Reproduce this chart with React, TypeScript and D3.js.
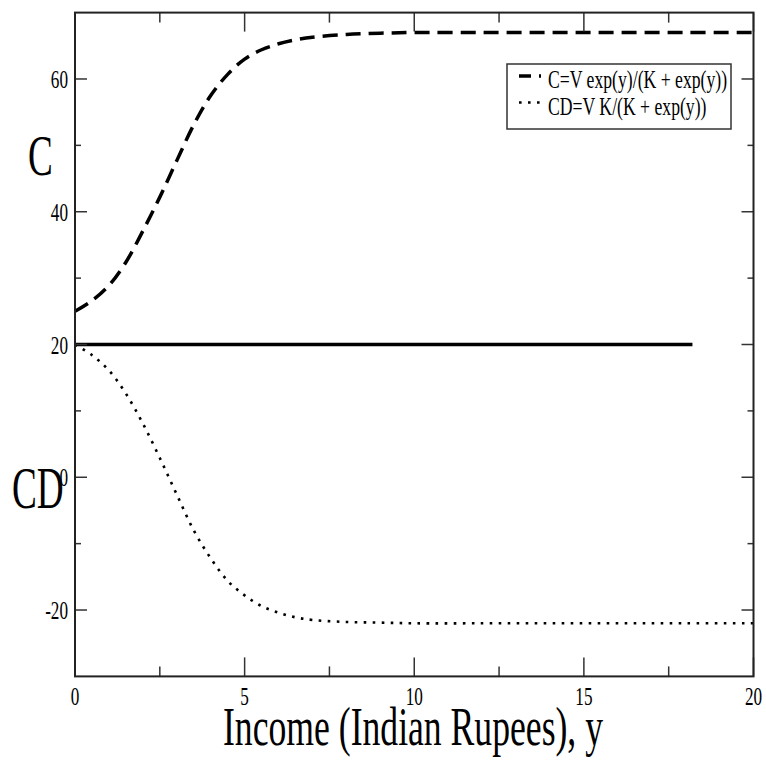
import React from "react";
import * as d3 from "d3";

// ---- data ----
const xValues = [0, 0.5, 1, 1.5, 2, 2.5, 3, 3.5, 4, 4.5, 5, 5.5, 6, 6.5, 7, 8, 9, 10, 12, 14, 16, 18, 20];
const cValues = [25.0, 26.6, 28.9, 32.4, 37.1, 42.2, 47.7, 53.1, 57.5, 60.7, 63.0, 64.4, 65.3, 65.9, 66.3, 66.7, 66.9, 67.0, 67.0, 67.0, 67.0, 67.0, 67.0];
const cdValues = [20.0, 18.4, 16.1, 12.6, 8.1, 2.9, -2.6, -8.0, -12.2, -15.6, -17.8, -19.4, -20.4, -21.1, -21.5, -21.8, -21.9, -22.0, -22.0, -22.0, -22.0, -22.0, -22.0];
const solidX = [0, 18.2];
const solidY = [20, 20];

const xMajorTicks = [0, 5, 10, 15, 20];
const xMinorTicks = [2.5, 7.5, 12.5, 17.5];
const yMajorTicks = [-20, 0, 20, 40, 60];
const yMinorTicks = [-10, 10, 30, 50];

const legendLabels = ["C=V exp(y)/(K + exp(y))", "CD=V K/(K + exp(y))"];
const xAxisLabel = "Income (Indian Rupees), y";

const W = 766;
const H = 762;
const FONT = "'Liberation Serif', 'Times New Roman', serif";

const x = d3.scaleLinear().domain([0, 20]).range([75, 753.5]);
const y = d3.scaleLinear().domain([-30, 70]).range([676.4, 12.6]);

function SText({ x: tx, y: ty, sx, size, anchor, children }: any) {
  return (
    <text
      transform={`translate(${tx},${ty}) scale(${sx},1)`}
      textAnchor={anchor || "start"}
      fontFamily={FONT}
      fontSize={size}
      fill="#000"
    >
      {children}
    </text>
  );
}

export default function App() {
  const line = d3
    .line<[number, number]>()
    .x((d) => x(d[0]))
    .y((d) => y(d[1]))
    .curve(d3.curveCatmullRom.alpha(0.5));

  const cPts: [number, number][] = xValues.map((v, i) => [v, cValues[i]]);
  const cdPts: [number, number][] = xValues.map((v, i) => [v, cdValues[i]]);
  const sPts: [number, number][] = solidX.map((v, i) => [v, solidY[i]]);

  const [x0, x1] = x.range();
  const [y0, y1] = y.range(); // y0 bottom, y1 top
  const axisColor = "#333";

  return (
    <svg
      width={W}
      height={H}
      style={{ position: "absolute", left: 0, top: 0, background: "#fff" }}
    >
      <defs>
        <clipPath id="plot">
          <rect x={x0} y={y1} width={x1 - x0} height={y0 - y1} />
        </clipPath>
      </defs>
      <rect x={0} y={0} width={W} height={H} fill="#fff" />

      {/* curves */}
      <g clipPath="url(#plot)">
        <path d={line(sPts) || ""} fill="none" stroke="#000" strokeWidth={3.5} />
        <path d={line(cPts) || ""} fill="none" stroke="#000" strokeWidth={3.5} strokeDasharray="15,8" />
        <path d={line(cdPts) || ""} fill="none" stroke="#000" strokeWidth={2.6} strokeDasharray="2.6,6.4" />
      </g>

      {/* ticks */}
      <g stroke={axisColor} strokeWidth={1.5}>
        {xMajorTicks.map((t) => (
          <g key={"xM" + t}>
            <line x1={x(t)} x2={x(t)} y1={y0} y2={y0 - 19} />
            <line x1={x(t)} x2={x(t)} y1={y1} y2={y1 + 19} />
          </g>
        ))}
        {xMinorTicks.map((t) => (
          <g key={"xm" + t}>
            <line x1={x(t)} x2={x(t)} y1={y0} y2={y0 - 10} />
            <line x1={x(t)} x2={x(t)} y1={y1} y2={y1 + 10} />
          </g>
        ))}
        {yMajorTicks.map((t) => (
          <g key={"yM" + t}>
            <line x1={x0} x2={x0 + 12} y1={y(t)} y2={y(t)} />
            <line x1={x1} x2={x1 - 12} y1={y(t)} y2={y(t)} />
          </g>
        ))}
        {yMinorTicks.map((t) => (
          <g key={"ym" + t}>
            <line x1={x0} x2={x0 + 6} y1={y(t)} y2={y(t)} />
            <line x1={x1} x2={x1 - 6} y1={y(t)} y2={y(t)} />
          </g>
        ))}
      </g>

      {/* frame */}
      <rect x={x0} y={y1} width={x1 - x0} height={y0 - y1} fill="none" stroke="#222" strokeWidth={2} />

      {/* tick labels */}
      {xMajorTicks.map((t) => (
        <SText key={"xl" + t} x={x(t)} y={705} sx={0.66} size={26} anchor="middle">
          {String(t)}
        </SText>
      ))}
      {yMajorTicks.map((t) => (
        <SText key={"yl" + t} x={68} y={y(t) + 9} sx={0.66} size={26} anchor="end">
          {String(t)}
        </SText>
      ))}

      {/* axis labels */}
      <SText x={413} y={745} sx={0.66} size={54} anchor="middle">
        {xAxisLabel}
      </SText>
      <SText x={28} y={175} sx={0.64} size={58} anchor="start">
        C
      </SText>
      <SText x={12} y={508} sx={0.62} size={60} anchor="start">
        CD
      </SText>

      {/* legend */}
      <rect x={507} y={64} width={224} height={65} fill="#fff" stroke="#333" strokeWidth={1.5} />
      <line x1={519} x2={541} y1={76} y2={76} stroke="#000" strokeWidth={3.5} strokeDasharray="12,8" />
      <line x1={519} x2={542} y1={102.5} y2={102.5} stroke="#000" strokeWidth={2.6} strokeDasharray="2.6,6.4" />
      <SText x={548} y={88} sx={0.68} size={26} anchor="start">
        {legendLabels[0]}
      </SText>
      <SText x={548} y={115} sx={0.68} size={26} anchor="start">
        {legendLabels[1]}
      </SText>
    </svg>
  );
}
